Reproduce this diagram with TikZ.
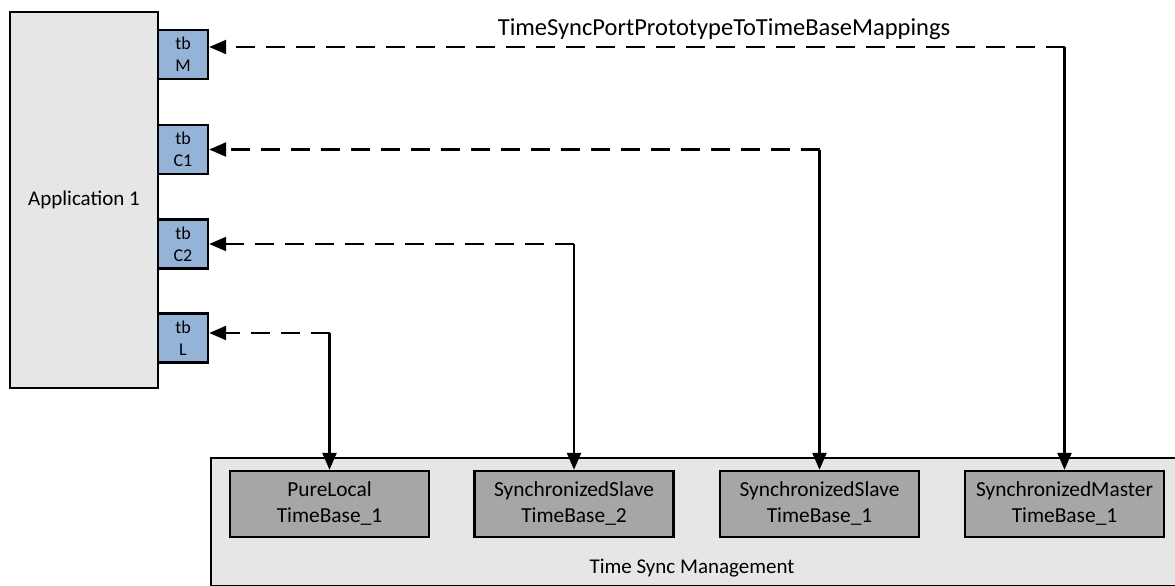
\documentclass[tikz,border=0pt]{standalone}
\usepackage{fontspec}
\setmainfont{Carlito}
\usepackage{tikz}
\usetikzlibrary{arrows.meta,positioning}
\definecolor{appgray}{HTML}{E6E6E6}
\definecolor{portblue}{HTML}{95B3D7}
\definecolor{tbgray}{HTML}{A6A6A6}

\begin{document}
\begin{tikzpicture}[
    x=1pt, y=-1pt,
    box/.style={draw, line width=2.4pt, align=center, inner sep=0pt},
    app/.style={box, fill=appgray, font=\fontsize{21}{26}\selectfont},
    port/.style={box, fill=portblue, minimum width=50pt, minimum height=49pt,
                 font=\fontsize{18}{22}\selectfont},
    tbase/.style={box, fill=tbgray, minimum width=199pt, minimum height=66pt,
                  font=\fontsize{21.4}{26}\selectfont},
    map/.style={line width=2.4pt, dash pattern=on 19pt off 11pt, -{Triangle[length=17pt,width=14pt]}},
    link/.style={line width=2.4pt, -{Triangle[length=17pt,width=14pt]}},
]
\useasboundingbox (0,0) rectangle (1175,586);

% Time sync management frame (cut off at the right and bottom)
\node[box, fill=appgray, minimum width=980pt, minimum height=128pt, anchor=north west]
    (tsm) at (210,457) {};
\node[font=\fontsize{21}{26}\selectfont] (tsmlabel) at (692,568) {Time Sync Management};

% Application with its ports
\node[app, minimum width=148pt, minimum height=376pt] (app) at (84,200) {Application 1};
\node[port] (pM)  at (183,54.5) {tb\\M};
\node[port] (pC1) at (183,149.5) {tb\\C1};
\node[port] (pC2) at (183,244) {tb\\C2};
\node[port] (pL)  at (183,338) {tb\\L};

% Time bases
\node[tbase] (tbL)  at (329.5,504) {PureLocal\\TimeBase\_1};
\node[tbase] (tbS2) at (574,504)   {SynchronizedSlave\\TimeBase\_2};
\node[tbase] (tbS1) at (819.5,504) {SynchronizedSlave\\TimeBase\_1};
\node[tbase] (tbM)  at (1064.5,504) {SynchronizedMaster\\TimeBase\_1};

% Mapping title
\node[font=\fontsize{24.5}{28}\selectfont] (maptitle) at (724,29) {TimeSyncPortPrototypeToTimeBaseMappings};

% Mappings: corner above each time base, dashed to the port, solid down to the time base
\coordinate (cM)  at (tbM.north |- 0,47);
\coordinate (cC1) at (tbS1.north |- pC1.east);
\coordinate (cC2) at (tbS2.north |- pC2.east);
\coordinate (cL)  at (tbL.north |- 0,333);

\draw[map] (cM) -- (cM -| pM.east);
\draw[map] (cC1) -- (pC1.east);
\draw[map] (cC2) -- (pC2.east);
\draw[map] (cL) -- (cL -| pL.east);

\draw[link] (cM) -- (tbM.north);
\draw[link] (cC1) -- (tbS1.north);
\draw[link] (cC2) -- (tbS2.north);
\draw[link] (cL) -- (tbL.north);

\end{tikzpicture}
\end{document}
